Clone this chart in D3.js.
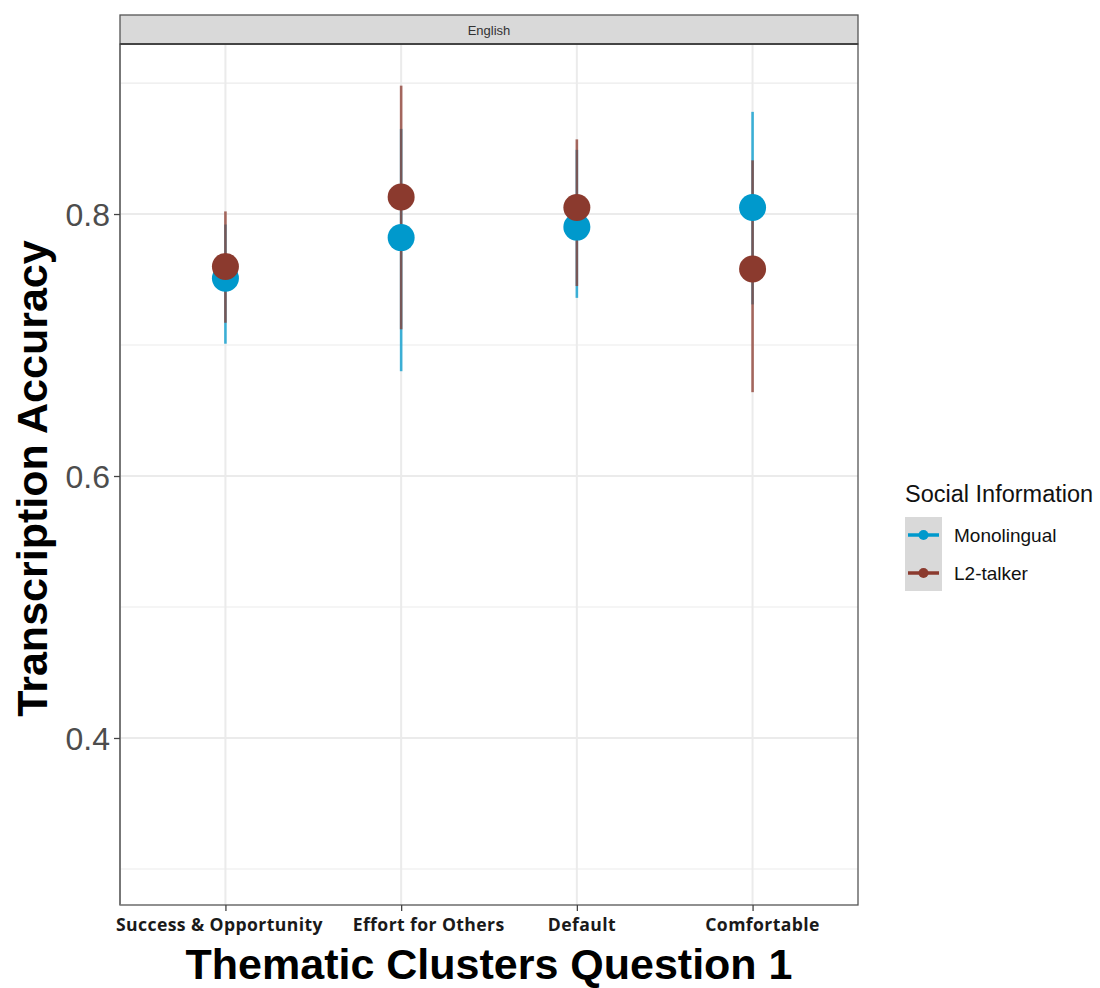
<!DOCTYPE html>
<html>
<head>
<meta charset="utf-8">
<script src="https://cdn.jsdelivr.net/npm/d3@7"></script>
<style>
  body { margin: 0; background: #fff; }
  svg { display: block; }
</style>
</head>
<body>
<svg id="chart" width="1100" height="988"></svg>
<script>
// Thematic clusters on the x axis
const categories = ["Success & Opportunity", "Effort for Others", "Default", "Comfortable"];
const seriesNames = ["Monolingual", "L2-talker"];
const seriesColors = ["#0099CC", "#8B3A2E"];

// Mean transcription accuracy per cluster
const monolingualMean = [0.751, 0.782, 0.790, 0.805];
const l2TalkerMean    = [0.760, 0.813, 0.805, 0.758];

// Interval bounds
const monolingualLow  = [0.701, 0.680, 0.736, 0.731];
const monolingualHigh = [0.792, 0.865, 0.849, 0.878];
const l2TalkerLow     = [0.717, 0.712, 0.745, 0.664];
const l2TalkerHigh    = [0.802, 0.898, 0.857, 0.841];

const yMajorTicks = [0.4, 0.6, 0.8];
const yMinorTicks = [0.3, 0.5, 0.7, 0.9];
const facetLabel = "English";

// Horizontal nudges (px) for the x tick labels
const xLabelNudge = [-6.5, 27, 4.5, 9.5];

const series = [
  { name: seriesNames[0], color: seriesColors[0], mean: monolingualMean, low: monolingualLow, high: monolingualHigh },
  { name: seriesNames[1], color: seriesColors[1], mean: l2TalkerMean, low: l2TalkerLow, high: l2TalkerHigh }
];

const svg = d3.select("#chart");
const panel = { left: 120, right: 858, top: 44, bottom: 905 };
const strip = { top: 15, bottom: 44 };

// Discrete x scale with 0.6 units of padding each side
const x = d3.scalePoint().domain(categories)
  .range([panel.left, panel.right]).padding(0.6);
const y = d3.scaleLinear().domain([0.2725, 0.9298]).range([panel.bottom, panel.top]);

// Panel background
svg.append("rect").attr("x", panel.left).attr("y", panel.top)
  .attr("width", panel.right - panel.left).attr("height", panel.bottom - panel.top)
  .attr("fill", "#fff");

// Grid lines
const grid = svg.append("g");
grid.selectAll("line.minor").data(yMinorTicks).enter().append("line")
  .attr("x1", panel.left).attr("x2", panel.right)
  .attr("y1", d => y(d)).attr("y2", d => y(d))
  .attr("stroke", "#EBEBEB").attr("stroke-width", 1.2);
grid.selectAll("line.major").data(yMajorTicks).enter().append("line")
  .attr("x1", panel.left).attr("x2", panel.right)
  .attr("y1", d => y(d)).attr("y2", d => y(d))
  .attr("stroke", "#EBEBEB").attr("stroke-width", 2);
grid.selectAll("line.vert").data(categories).enter().append("line")
  .attr("x1", d => x(d)).attr("x2", d => x(d))
  .attr("y1", panel.top).attr("y2", panel.bottom)
  .attr("stroke", "#EBEBEB").attr("stroke-width", 2);

// Interval lines, then points, series by series
series.forEach(s => {
  svg.append("g").selectAll("line").data(categories).enter().append("line")
    .attr("x1", d => x(d)).attr("x2", d => x(d))
    .attr("y1", (d, i) => y(s.low[i])).attr("y2", (d, i) => y(s.high[i]))
    .attr("stroke", s.color).attr("stroke-width", 2.6).attr("stroke-opacity", 0.75);
});
series.forEach(s => {
  svg.append("g").selectAll("circle").data(categories).enter().append("circle")
    .attr("cx", d => x(d)).attr("cy", (d, i) => y(s.mean[i]))
    .attr("r", 13.5).attr("fill", s.color);
});

// Panel border
svg.append("rect").attr("x", panel.left).attr("y", panel.top)
  .attr("width", panel.right - panel.left).attr("height", panel.bottom - panel.top)
  .attr("fill", "none").attr("stroke", "#555").attr("stroke-width", 1.3);
svg.append("line").attr("x1", panel.left).attr("x2", panel.left)
  .attr("y1", panel.top).attr("y2", panel.bottom)
  .attr("stroke", "#777").attr("stroke-width", 2);

// Facet strip
svg.append("rect").attr("x", panel.left).attr("y", strip.top)
  .attr("width", panel.right - panel.left).attr("height", strip.bottom - strip.top)
  .attr("fill", "#D9D9D9").attr("stroke", "#555").attr("stroke-width", 1.3);
svg.append("line").attr("x1", panel.left).attr("x2", panel.right)
  .attr("y1", strip.bottom).attr("y2", strip.bottom)
  .attr("stroke", "#444").attr("stroke-width", 2);
svg.append("text").attr("x", (panel.left + panel.right) / 2).attr("y", 35)
  .attr("text-anchor", "middle").attr("font-family", "Liberation Sans, Arial, sans-serif")
  .attr("font-size", 13).attr("fill", "#333").text(facetLabel);

// Y axis
const yAxis = d3.axisLeft(y).tickValues(yMajorTicks).tickSize(6).tickPadding(4)
  .tickFormat(d3.format(".1f"));
const yg = svg.append("g").attr("transform", `translate(${panel.left},0)`).call(yAxis);
yg.select(".domain").remove();
yg.selectAll(".tick line").attr("stroke", "#444").attr("stroke-width", 1.3);
yg.selectAll(".tick text").attr("font-family", "Liberation Sans, Arial, sans-serif")
  .attr("font-size", 32).attr("fill", "#4D4D4D").attr("dy", "0.36em");

// X axis
const xAxis = d3.axisBottom(x).tickSize(6).tickPadding(6);
const xg = svg.append("g").attr("transform", `translate(0,${panel.bottom})`).call(xAxis);
xg.select(".domain").remove();
xg.selectAll(".tick line").attr("stroke", "#444").attr("stroke-width", 1.3);
xg.selectAll(".tick text").attr("font-family", "Open Sans, Liberation Sans, sans-serif")
  .attr("font-weight", "bold").attr("font-size", 17.6).attr("letter-spacing", 0.4)
  .attr("fill", "#1a1a1a").attr("dy", "0.8em")
  .attr("dx", (d, i) => xLabelNudge[i]);

// Axis titles
svg.append("text").attr("x", (panel.left + panel.right) / 2).attr("y", 979)
  .attr("text-anchor", "middle").attr("font-family", "Liberation Sans, Arial, sans-serif")
  .attr("font-weight", "bold").attr("font-size", 43).attr("fill", "#000")
  .text("Thematic Clusters Question 1");
svg.append("text").attr("transform", `translate(47,${(panel.top + panel.bottom) / 2 + 4}) rotate(-90)`)
  .attr("text-anchor", "middle").attr("font-family", "Liberation Sans, Arial, sans-serif")
  .attr("font-weight", "bold").attr("font-size", 43).attr("fill", "#000")
  .text("Transcription Accuracy");

// Legend
const legend = svg.append("g").attr("transform", "translate(905,0)");
legend.append("text").attr("x", 0).attr("y", 502)
  .attr("font-family", "Liberation Sans, Arial, sans-serif").attr("font-size", 23.5)
  .attr("fill", "#111").text("Social Information");
legend.append("rect").attr("x", 0).attr("y", 517).attr("width", 37).attr("height", 74)
  .attr("fill", "#D9D9D9");
const keyY = [535, 573];
series.forEach((s, i) => {
  legend.append("line").attr("x1", 3).attr("x2", 34).attr("y1", keyY[i]).attr("y2", keyY[i])
    .attr("stroke", s.color).attr("stroke-width", 3.5);
  legend.append("circle").attr("cx", 18.5).attr("cy", keyY[i]).attr("r", 5).attr("fill", s.color);
  legend.append("text").attr("x", 49).attr("y", keyY[i]).attr("dy", "0.36em")
    .attr("font-family", "Liberation Sans, Arial, sans-serif").attr("font-size", 19)
    .attr("fill", "#111").text(s.name);
});
</script>
</body>
</html>
